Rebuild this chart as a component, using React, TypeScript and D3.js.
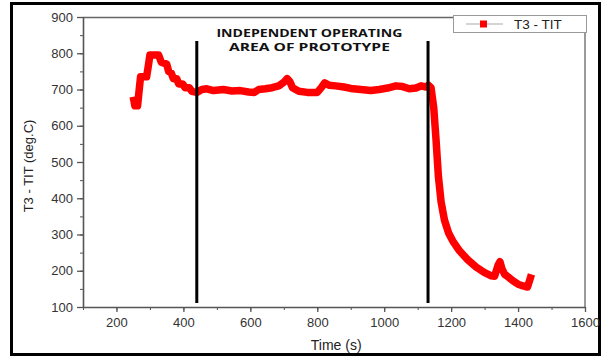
import React, { useEffect, useRef } from 'react';
import * as d3 from 'd3';

// T3 - TIT temperature readings
const times = [250, 255, 263, 268, 272, 290, 296, 300, 326, 334, 350, 356, 364, 370, 380, 386, 398, 405, 418, 425, 440, 455, 470, 490, 520, 545, 570, 595, 612, 625, 645, 665, 685, 700, 710, 718, 726, 745, 770, 800, 812, 822, 835, 855, 880, 900, 930, 960, 985, 1010, 1035, 1055, 1075, 1095, 1110, 1125, 1132, 1140, 1148, 1155, 1162, 1170, 1180, 1192, 1205, 1225, 1250, 1275, 1300, 1320, 1330, 1340, 1346, 1352, 1360, 1372, 1385, 1400, 1415, 1428, 1435, 1440];
const temps = [680, 655, 655, 700, 735, 735, 770, 795, 795, 775, 770, 750, 745, 730, 730, 715, 715, 705, 705, 695, 692, 700, 702, 697, 700, 696, 697, 693, 692, 700, 702, 705, 710, 720, 730, 722, 705, 695, 692, 692, 705, 718, 712, 710, 707, 703, 700, 697, 700, 704, 710, 708, 702, 704, 710, 707, 712, 705, 650, 560, 460, 390, 340, 305, 282, 255, 230, 210, 195, 186, 185, 215, 225, 205, 190, 182, 172, 163, 158, 155, 175, 190];

const xTicks = [200, 400, 600, 800, 1000, 1200, 1400, 1600];
const yTicks = [100, 200, 300, 400, 500, 600, 700, 800, 900];
const markerTimes = [440, 1131];
const noteLines = ['INDEPENDENT OPERATING', 'AREA OF PROTOTYPE'];
const seriesName = 'T3 - TIT';

const W = 604;
const H = 358;

const App = () => {
    const svgRef = useRef(null);

    useEffect(() => {
        const svg = d3.select(svgRef.current);
        svg.selectAll('*').remove();

        const margin = { top: 17, right: 19, bottom: 51, left: 83 };
        const innerW = W - margin.left - margin.right;
        const innerH = H - margin.top - margin.bottom;

        const x = d3.scaleLinear().domain([100, 1600]).range([0, innerW]);
        const y = d3.scaleLinear().domain([100, 900]).range([innerH, 0]);

        svg.append('rect').attr('width', W).attr('height', H).attr('fill', '#fff');
        // outer frame
        svg.append('rect')
            .attr('x', 11.5).attr('y', 3.5)
            .attr('width', 588).attr('height', 351)
            .attr('fill', 'none').attr('stroke', '#000').attr('stroke-width', 3);

        const g = svg.append('g').attr('transform', `translate(${margin.left},${margin.top})`);

        // top and right border
        g.append('path')
            .attr('d', `M0,0.5H${innerW}V${innerH}`)
            .attr('fill', 'none').attr('stroke', '#666').attr('stroke-width', 1.3);

        // minor ticks
        g.append('g')
            .attr('transform', `translate(0,${innerH})`)
            .call(d3.axisBottom(x).tickValues(d3.range(100, 1601, 100)).tickSize(3).tickFormat(() => ''))
            .call(s => s.select('.domain').remove())
            .selectAll('line').attr('stroke', '#555');
        g.append('g')
            .call(d3.axisLeft(y).tickValues(d3.range(100, 901, 50)).tickSize(3).tickFormat(() => ''))
            .call(s => s.select('.domain').remove())
            .selectAll('line').attr('stroke', '#555');

        // major axes
        const xa = g.append('g')
            .attr('transform', `translate(0,${innerH})`)
            .call(d3.axisBottom(x).tickValues(xTicks).tickFormat(d3.format('d')).tickSize(5).tickPadding(6).tickSizeOuter(0));
        const ya = g.append('g')
            .call(d3.axisLeft(y).tickValues(yTicks).tickFormat(d3.format('d')).tickSize(6).tickPadding(4).tickSizeOuter(0));
        [xa, ya].forEach(a => {
            a.select('.domain').attr('stroke', '#555').attr('stroke-width', 1.6);
            a.selectAll('line').attr('stroke', '#555').attr('stroke-width', 1.3);
            a.selectAll('text')
                .style('font-family', '"Liberation Sans", Arial, sans-serif')
                .style('font-size', '13px')
                .attr('fill', '#333');
        });

        // data line
        const pts = times.map((t, i) => [t, temps[i]]);
        g.append('path')
            .datum(pts)
            .attr('fill', 'none')
            .attr('stroke', '#ff0000')
            .attr('stroke-width', 7.5)
            .attr('stroke-linejoin', 'round')
            .attr('d', d3.line().x(d => x(d[0])).y(d => y(d[1])));

        // region markers
        g.selectAll('.marker')
            .data(markerTimes)
            .enter().append('line')
            .attr('x1', d => x(d)).attr('x2', d => x(d))
            .attr('y1', 24).attr('y2', innerH - 4)
            .attr('stroke', '#000').attr('stroke-width', 3);

        const noteWidths = [186, 161];
        g.selectAll('.note')
            .data(noteLines)
            .enter().append('text')
            .attr('x', (x(markerTimes[0]) + x(markerTimes[1])) / 2 - 3)
            .attr('y', (d, i) => 20 + i * 14)
            .attr('text-anchor', 'middle')
            .attr('textLength', (d, i) => noteWidths[i])
            .attr('lengthAdjust', 'spacingAndGlyphs')
            .style('font-family', '"Open Sans", "Liberation Sans", sans-serif')
            .style('font-weight', 'bold')
            .style('font-size', '10.5px')
            .attr('fill', '#111')
            .text(d => d);

        // legend
        const lg = svg.append('g').attr('transform', 'translate(453,15)');
        lg.append('rect').attr('x', 0.5).attr('y', 0.5).attr('width', 133).attr('height', 17)
            .attr('fill', '#fff').attr('stroke', '#999');
        lg.append('line').attr('x1', 13).attr('x2', 50).attr('y1', 9).attr('y2', 9)
            .attr('stroke', '#aaa').attr('stroke-width', 1.2);
        lg.append('rect').attr('x', 27).attr('y', 5.5).attr('width', 7).attr('height', 7).attr('fill', '#ff0000');
        lg.append('text').attr('x', 61).attr('y', 14)
            .style('font-family', '"Liberation Sans", Arial, sans-serif')
            .style('font-size', '13.5px')
            .attr('fill', '#222')
            .text(seriesName);

        // axis titles
        svg.append('text')
            .attr('x', margin.left + x(1000) - 48).attr('y', 350)
            .attr('text-anchor', 'middle')
            .style('font-family', '"Liberation Sans", Arial, sans-serif')
            .style('font-size', '14px')
            .attr('fill', '#222')
            .text('Time (s)');
        svg.append('text')
            .attr('transform', `translate(33,166) rotate(-90)`)
            .attr('text-anchor', 'middle')
            .style('font-family', '"Liberation Sans", Arial, sans-serif')
            .style('font-size', '13px')
            .attr('fill', '#222')
            .text('T3 - TIT (deg.C)');
    }, []);

    return (
        <svg ref={svgRef} width={W} height={H} style={{ position: 'absolute', left: 0, top: 0 }} />
    );
};

export default App;
